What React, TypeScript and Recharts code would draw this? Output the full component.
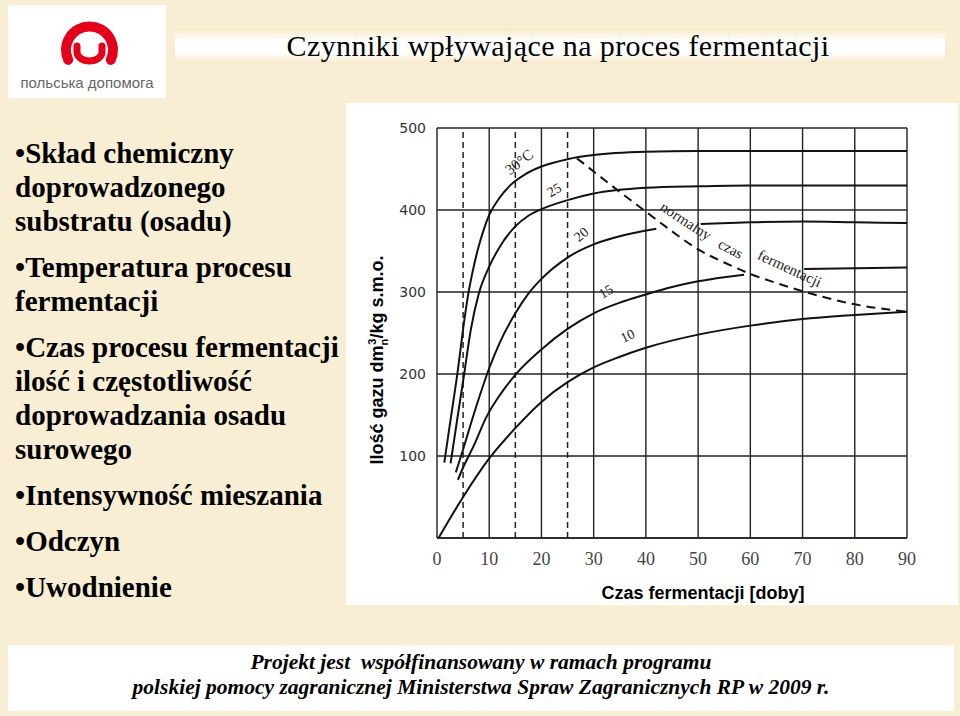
import React from 'react'
import {
  LineChart,
  Line,
  XAxis,
  YAxis,
  CartesianGrid,
  ReferenceLine,
  ReferenceDot,
} from 'recharts'

// gas yield [dm3/kg] vs fermentation time [days]
const curve30: [number, number][] = [
  [1.4, 92], [2.5, 140], [4, 205], [5, 255], [6, 298], [7, 330], [8, 356],
  [9, 377], [10, 394], [12, 415], [14, 430], [17, 444], [20, 453], [25, 462],
  [30, 467], [40, 471], [50, 472], [60, 472], [70, 472], [80, 472], [90, 472],
]
const curve25: [number, number][] = [
  [2.6, 91], [4, 150], [5.2, 200], [6.5, 255], [8, 298], [10, 331], [12, 355],
  [15, 380], [17.5, 393], [20, 401], [25, 412], [30, 420], [40, 427], [50, 429],
  [60, 430], [90, 430],
]
const curve20: [number, number][] = [
  [3.6, 80], [5, 108], [7, 150], [10, 207], [12, 238], [15, 274], [17.5, 298],
  [20, 316], [25, 342], [30, 358], [35, 368], [42, 377],
]
const curve20Tail: [number, number][] = [
  [50.5, 383], [60, 385], [70, 386], [80, 385], [90, 384],
]
const curve15: [number, number][] = [
  [4, 71], [5, 86], [7, 112], [9.5, 148], [12, 174], [15, 199], [20, 230],
  [25, 255], [30, 274], [35, 287], [40, 297], [45, 306], [50, 313], [55, 318],
  [58.8, 321],
]
const curve10: [number, number][] = [
  [0.3, 0], [5, 50], [10, 97], [15, 134], [20, 166], [25, 190], [30, 208],
  [35, 221], [40, 232], [50, 248], [60, 259], [70, 267], [80, 272], [90, 276],
]
const stepSegment: [number, number][] = [[70.3, 328], [90, 330]]
// "normalny czas fermentacji" boundary
const normalTime: [number, number][] = [
  [26.8, 463], [30, 447], [34, 427], [40, 398], [45, 374], [50, 352],
  [55, 336], [60, 322], [65, 311], [70, 301], [80, 285], [90, 276],
]

const xTicks = [0, 10, 20, 30, 40, 50, 60, 70, 80, 90]
const yTicks = [100, 200, 300, 400, 500]
const dashedDays = [5, 15, 25]

const curveLabels = [
  { d: 15.9, v: 457, text: '30°C', angle: -38, size: 15 },
  { d: 22.6, v: 423, text: '25', angle: -30, size: 14 },
  { d: 27.8, v: 369, text: '20', angle: -40, size: 14 },
  { d: 32.5, v: 299, text: '15', angle: -30, size: 14 },
  { d: 36.6, v: 245, text: '10', angle: -25, size: 14 },
  { d: 47.5, v: 385, text: 'normalny', angle: 33, size: 15 },
  { d: 56.1, v: 351, text: 'czas', angle: 28, size: 15 },
  { d: 67.4, v: 327, text: 'fermentacji', angle: 25, size: 15 },
]

const bullets = [
  ['•Skład chemiczny', 'doprowadzonego', 'substratu (osadu)'],
  ['•Temperatura procesu', 'fermentacji'],
  ['•Czas procesu fermentacji', 'ilość i częstotliwość', 'doprowadzania osadu', 'surowego'],
  ['•Intensywność mieszania'],
  ['•Odczyn'],
  ['•Uwodnienie'],
]

const toPoints = (arr: [number, number][]) => arr.map(([d, v]) => ({ d, v }))

const series = [
  { key: 't30', pts: curve30 },
  { key: 't25', pts: curve25 },
  { key: 't20', pts: curve20 },
  { key: 't20b', pts: curve20Tail },
  { key: 't15', pts: curve15 },
  { key: 't10', pts: curve10 },
  { key: 'step', pts: stepSegment },
]

function Logo() {
  return (
    <div
      style={{
        position: 'absolute',
        left: 8,
        top: 5,
        width: 158,
        height: 93,
        background: '#fff',
      }}
    >
      <svg width={158} height={93}>
        <path
          d="M 60.2 54.9 A 23.5 23.5 0 1 1 102.8 54.9"
          fill="none"
          stroke="#e2001a"
          strokeWidth={10}
          strokeLinecap="round"
        />
        <path
          d="M 69 41 L 69 47 A 12.5 9 0 0 0 94 47 L 94 41"
          fill="none"
          stroke="#e2001a"
          strokeWidth={7}
          strokeLinecap="round"
        />
        <text
          x={79}
          y={83}
          textAnchor="middle"
          fontFamily="Liberation Sans, Arial, sans-serif"
          fontSize={15}
          fill="#666"
        >
          польська допомога
        </text>
      </svg>
    </div>
  )
}

export default function App() {
  return (
    <div
      style={{
        position: 'absolute',
        left: 0,
        top: 0,
        width: 960,
        height: 716,
        overflow: 'hidden',
        background: '#f8eed4',
        fontFamily: '"Liberation Serif", "Times New Roman", serif',
      }}
    >
      <Logo />

      <div
        style={{
          position: 'absolute',
          left: 175,
          top: 28,
          width: 770,
          height: 37,
          background:
            'linear-gradient(to bottom, #f5e8c6, #ffffff 35%, #ffffff 65%, #f5e8c6)',
        }}
      />
      <div
        style={{
          position: 'absolute',
          left: 175,
          top: 27,
          width: 766,
          height: 37,
          lineHeight: '37px',
          textAlign: 'center',
          fontSize: 30,
          letterSpacing: 0.4,
          color: '#000',
        }}
      >
        Czynniki wpływające na proces fermentacji
      </div>

      <div
        style={{
          position: 'absolute',
          left: 15,
          top: 136,
          fontSize: 29,
          fontWeight: 700,
          lineHeight: '34px',
          color: '#000',
          whiteSpace: 'nowrap',
        }}
      >
        {bullets.map((group, gi) => (
          <div key={gi} style={{ marginBottom: 12 }}>
            {group.map((line, li) => (
              <div key={li}>{line}</div>
            ))}
          </div>
        ))}
      </div>

      {/* chart panel */}
      <div
        style={{
          position: 'absolute',
          left: 346,
          top: 103,
          width: 612,
          height: 502,
          background: '#fff',
        }}
      >
        <LineChart
          width={612}
          height={502}
          margin={{ top: 25, right: 51, bottom: 37, left: 30 }}
        >
          <CartesianGrid stroke="#222" strokeWidth={1.4} />
          <XAxis
            type="number"
            dataKey="d"
            domain={[0, 90]}
            ticks={xTicks}
            interval={0}
            allowDataOverflow
            height={30}
            tickLine={false}
            tickSize={0}
            tickMargin={14}
            axisLine={{ stroke: '#222', strokeWidth: 1.4 }}
            tick={{
              fontSize: 18,
              fill: '#444',
              fontFamily: '"Liberation Serif", serif',
            }}
          />
          <YAxis
            type="number"
            dataKey="v"
            domain={[0, 500]}
            ticks={yTicks}
            interval={0}
            width={61}
            axisLine={false}
            tickLine={false}
            tickSize={0}
            tickMargin={11}
            tick={{
              fontSize: 14,
              fill: '#333',
              fontFamily: '"DejaVu Sans", sans-serif',
            }}
          />
          {dashedDays.map((d) => (
            <ReferenceLine
              key={d}
              x={d}
              stroke="#222"
              strokeWidth={1.5}
              strokeDasharray="6 4"
            />
          ))}
          {series.map((s) => (
            <Line
              key={s.key}
              data={toPoints(s.pts)}
              dataKey="v"
              type="monotone"
              stroke="#111"
              strokeWidth={2}
              dot={false}
              isAnimationActive={false}
            />
          ))}
          <Line
            data={toPoints(normalTime)}
            dataKey="v"
            type="monotone"
            stroke="#111"
            strokeWidth={2}
            strokeDasharray="9 6"
            dot={false}
            isAnimationActive={false}
          />
          {curveLabels.map((l) => (
            <ReferenceDot
              key={l.text}
              x={l.d}
              y={l.v}
              r={1}
              shape={(p: any) => (
                <text
                  x={p.cx}
                  y={p.cy}
                  textAnchor="middle"
                  dominantBaseline="middle"
                  transform={`rotate(${l.angle} ${p.cx} ${p.cy})`}
                  fontFamily='"Liberation Serif", serif'
                  fontSize={l.size}
                  fill="#222"
                >
                  {l.text}
                </text>
              )}
            />
          ))}
        </LineChart>

        <div
          style={{
            position: 'absolute',
            left: 32,
            top: 257,
            transform: 'translate(-50%, -50%) rotate(-90deg)',
            whiteSpace: 'nowrap',
            fontFamily: '"Liberation Sans", Arial, sans-serif',
            fontWeight: 700,
            fontSize: 18,
            color: '#000',
          }}
        >
          Ilość gazu dm
          <sub style={{ fontSize: 11 }}>n</sub>
          <sup style={{ fontSize: 11, marginLeft: -6 }}>3</sup>
          /kg s.m.o.
        </div>
        <div
          style={{
            position: 'absolute',
            left: 357,
            top: 480,
            transform: 'translateX(-50%)',
            whiteSpace: 'nowrap',
            fontFamily: '"Liberation Sans", Arial, sans-serif',
            fontWeight: 700,
            fontSize: 18,
            color: '#000',
          }}
        >
          Czas fermentacji [doby]
        </div>
      </div>

      <div
        style={{
          position: 'absolute',
          left: 8,
          top: 645,
          width: 946,
          height: 66,
          background: '#fff',
          textAlign: 'center',
          fontStyle: 'italic',
          fontWeight: 700,
          fontSize: 21.5,
          lineHeight: '25px',
          paddingTop: 5,
          boxSizing: 'border-box',
          color: '#000',
        }}
      >
        <div>Projekt jest&nbsp; współfinansowany w ramach programu</div>
        <div>
          polskiej pomocy zagranicznej Ministerstwa Spraw Zagranicznych RP w 2009 r.
        </div>
      </div>
    </div>
  )
}
